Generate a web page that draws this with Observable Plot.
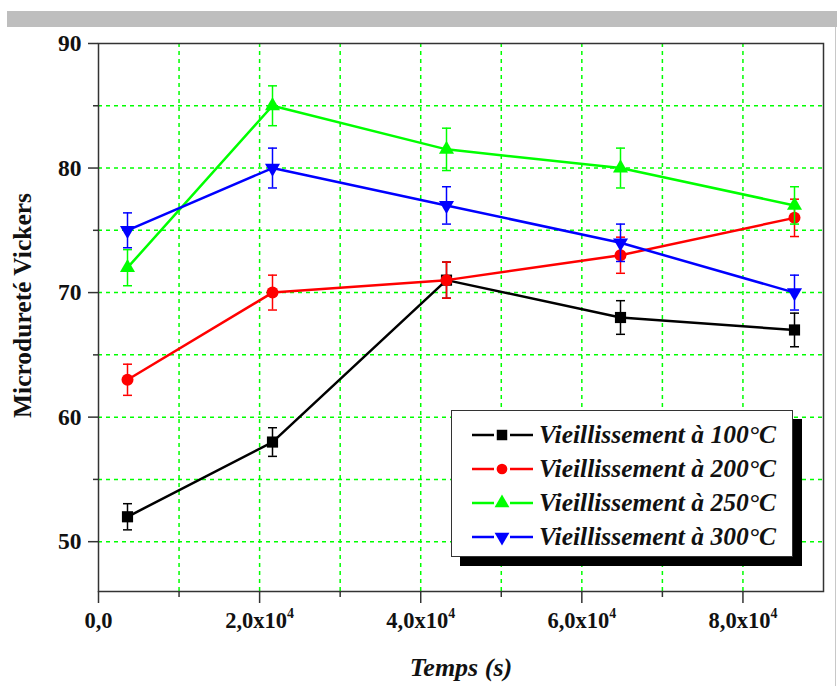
<!DOCTYPE html>
<html><head><meta charset="utf-8">
<script src="https://cdn.jsdelivr.net/npm/d3@7"></script>
<script src="https://cdn.jsdelivr.net/npm/@observablehq/plot@0.6"></script>
<style>
body{margin:0;background:#fff;}
#wrap{position:relative;width:837px;height:686px;overflow:hidden;}
#bar{position:absolute;left:7px;top:11px;width:830px;height:16px;background:#bebebe;}
#edge{position:absolute;left:835px;top:27px;width:1px;height:659px;background:#c8c8c8;}
#chart{position:absolute;left:0;top:0;}
#chart svg text{font-family:"Liberation Serif","Times New Roman",serif;font-weight:bold;fill:#111;}
#legend{position:absolute;left:451px;top:410px;width:340px;height:145px;border:1.5px solid #333;background:#fff;box-shadow:9px 9px 0 #000;}
.row{position:absolute;left:20px;height:30px;display:flex;align-items:center;}
.row span{font-family:"Liberation Serif","Times New Roman",serif;font-weight:bold;font-style:italic;font-size:25.5px;color:#111;margin-left:5px;white-space:nowrap;}
</style></head>
<body><div id="wrap"><div id="bar"></div><div id="edge"></div><div id="chart"></div><div id="legend"></div></div>
<script>
// ---- data ----
const times = [3600, 21600, 43200, 64800, 86400];
const series = ["Vieillissement à 100°C", "Vieillissement à 200°C", "Vieillissement à 250°C", "Vieillissement à 300°C"];
const colors = ["#000000", "#ff0000", "#00ff00", "#0000ff"];
const symbols = ["square", "circle", "triangle", "triangle"];
const rotations = [0, 0, 0, 180];
const hv100 = [52, 58, 71, 68, 67];
const hv200 = [63, 70, 71, 73, 76];
const hv250 = [72, 85, 81.5, 80, 77];
const hv300 = [75, 80, 77, 74, 70];
const err100 = [1.05, 1.15, 1.45, 1.35, 1.35];
const err200 = [1.25, 1.4, 1.45, 1.45, 1.5];
const err250 = [1.45, 1.6, 1.7, 1.6, 1.5];
const err300 = [1.4, 1.6, 1.5, 1.5, 1.4];
const yTicks = [50, 60, 70, 80, 90];
const yMinor = [55, 65, 75, 85];
const yGrid = [50, 55, 60, 65, 70, 75, 80, 85];
const xTicks = [0, 20000, 40000, 60000, 80000];
const xTickLabels = ["0,0", "2,0x10⁴", "4,0x10⁴", "6,0x10⁴", "8,0x10⁴"];
const xMinor = [10000, 30000, 50000, 70000];
const xGrid = [10000, 20000, 30000, 40000, 50000, 60000, 70000, 80000];
const xLabel = "Temps (s)";
const yLabel = "Microdureté Vickers";

const values = [hv100, hv200, hv250, hv300];
const errors = [err100, err200, err250, err300];
const data = [];
series.forEach((s, k) => times.forEach((t, i) => data.push({
  series: s, t, v: values[k][i], lo: values[k][i] - errors[k][i], hi: values[k][i] + errors[k][i]
})));

const cap = {draw(ctx, size) { const w = Math.sqrt(size / Math.PI); ctx.moveTo(-w, 0); ctx.lineTo(w, 0); }};
const gridStyle = {stroke: "#00ff00", strokeDasharray: "4,4", strokeWidth: 1.5, strokeOpacity: 1};

const marks = [
  Plot.ruleX(xGrid, gridStyle),
  Plot.ruleY(yGrid, gridStyle),
  Plot.axisY({ticks: yTicks, tickSize: 10, tickPadding: 7, fontSize: 23.5, label: null, stroke: "#333", strokeWidth: 1.5}),
  Plot.axisY({ticks: yMinor, tickSize: 5, tickFormat: () => "", label: null, stroke: "#333", strokeWidth: 1.5}),
  Plot.axisX({ticks: xTicks, tickSize: 12, tickPadding: 9, fontSize: 22.5, label: null, stroke: "#333", strokeWidth: 1.5,
    tickFormat: d => xTickLabels[xTicks.indexOf(d)]}),
  Plot.axisX({ticks: xMinor, tickSize: 6, tickFormat: () => "", label: null, stroke: "#333", strokeWidth: 1.5}),
  Plot.text([yLabel], {text: d => d, frameAnchor: "left", textAnchor: "middle", dx: -76, dy: -12, rotate: -90, fontSize: 25.5}),
  Plot.text([xLabel], {text: d => d, frameAnchor: "bottom", textAnchor: "middle", dy: 84, fontSize: 26, fontStyle: "italic"}),
];
series.forEach((s, k) => {
  const d = data.filter(e => e.series === s);
  marks.push(Plot.line(d, {x: "t", y: "v", stroke: colors[k], strokeWidth: 2.5}));
});
series.forEach((s, k) => {
  const d = data.filter(e => e.series === s);
  marks.push(Plot.ruleX(d, {x: "t", y1: "lo", y2: "hi", stroke: colors[k], strokeWidth: 1.5}));
  marks.push(Plot.dot(d, {x: "t", y: "lo", symbol: cap, r: 4.5, stroke: colors[k], strokeWidth: 1.5}));
  marks.push(Plot.dot(d, {x: "t", y: "hi", symbol: cap, r: 4.5, stroke: colors[k], strokeWidth: 1.5}));
  const r = symbols[k] === "square" ? 6.3 : symbols[k] === "circle" ? 6 : 5.6;
  marks.push(Plot.dot(d, {x: "t", y: "v", symbol: symbols[k], rotate: rotations[k], r, fill: colors[k], stroke: "none"}));
});
marks.push(Plot.frame({stroke: "#333", strokeWidth: 1.5}));

const chart = Plot.plot({
  width: 837, height: 686,
  marginLeft: 98, marginRight: 14, marginTop: 43, marginBottom: 95,
  x: {domain: [0, 90000]},
  y: {domain: [46, 90]},
  style: {background: "transparent", overflow: "visible"},
  marks
});
// render the "⁴" as a real superscript
d3.select(chart).selectAll("text").each(function() {
  const t = this.textContent;
  if (t.endsWith("⁴")) {
    const el = d3.select(this);
    el.text(t.slice(0, -1));
    el.append("tspan").attr("font-size", "0.62em").attr("dy", "-0.75em").text("4");
  }
});
document.getElementById("chart").appendChild(chart);

// legend
const leg = document.getElementById("legend");
const tops = [9, 43, 77, 111];
series.forEach((s, k) => {
  const row = document.createElement("div");
  row.className = "row";
  row.style.top = tops[k] + "px";
  const path = symbols[k] === "square" ? d3.symbol(d3.symbolSquare, 110)()
    : symbols[k] === "circle" ? d3.symbol(d3.symbolCircle, 90)() : d3.symbol(d3.symbolTriangle, 95)();
  row.innerHTML = `<svg width="62" height="20" viewBox="0 0 62 20">
    <line x1="0" y1="10" x2="22" y2="10" stroke="${colors[k]}" stroke-width="2.5"/>
    <line x1="38" y1="10" x2="61" y2="10" stroke="${colors[k]}" stroke-width="2.5"/>
    <path d="${path}" transform="translate(30,10) rotate(${rotations[k]})" fill="${colors[k]}"/>
  </svg><span>${s}</span>`;
  leg.appendChild(row);
});
</script>
</body></html>
